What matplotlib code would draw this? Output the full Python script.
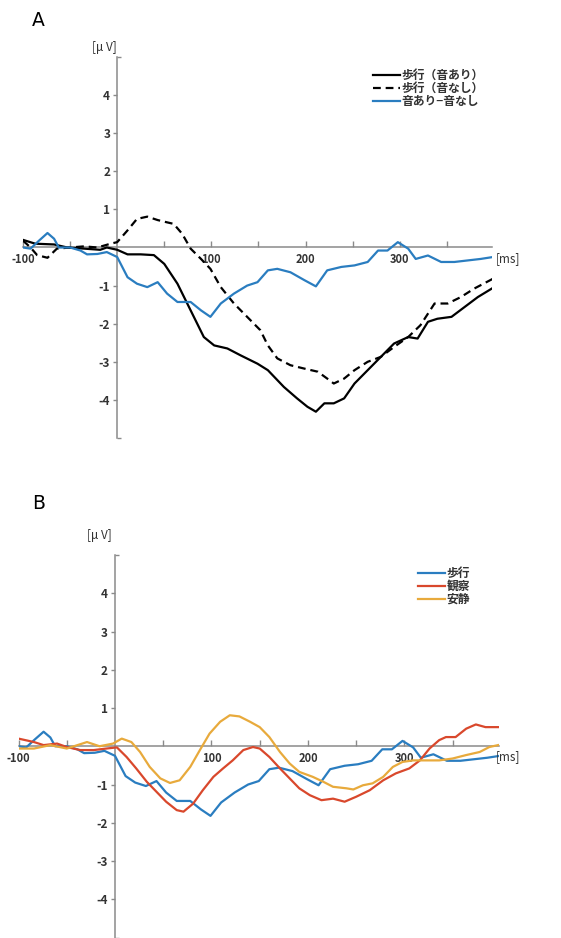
import matplotlib
matplotlib.use("Agg")
from matplotlib import pyplot as plt

plt.rcParams['font.family'] = ['Noto Sans CJK JP', 'DejaVu Sans']
plt.rcParams['axes.unicode_minus'] = False

# --- panel A: walking with / without sound, and the difference ---
t_on = [-100, -87, -67, -53, -35, -18, -11, 0, 11, 25, 39, 50, 64, 78, 92, 103, 117, 131,
        149, 160, 177, 191, 202, 211, 220, 230, 241, 252, 266, 280, 294, 309, 319, 330,
        340, 355, 369, 383, 399]
v_on = [0.2, 0.1, 0.08, 0.0, -0.03, -0.06, 0.0, -0.06, -0.18, -0.18, -0.2, -0.43, -0.95,
        -1.65, -2.35, -2.57, -2.65, -2.83, -3.05, -3.22, -3.66, -3.96, -4.18, -4.31, -4.09,
        -4.09, -3.96, -3.57, -3.22, -2.87, -2.52, -2.35, -2.39, -1.95, -1.87, -1.82, -1.56,
        -1.30, -1.06]

t_off = [-100, -92, -85, -74, -64, -50, -35, -21, -7, 0, 11, 21, 32, 43, 53, 60, 69, 78,
         89, 99, 110, 124, 138, 152, 160, 170, 184, 199, 213, 223, 230, 241, 252, 266, 280,
         294, 309, 322, 337, 351, 365, 379, 399]
v_off = [0.18, 0.0, -0.2, -0.27, -0.03, 0.0, 0.03, 0.0, 0.1, 0.14, 0.45, 0.75, 0.81, 0.72,
         0.66, 0.62, 0.36, -0.03, -0.3, -0.56, -1.04, -1.47, -1.82, -2.17, -2.57, -2.91,
         -3.09, -3.18, -3.26, -3.44, -3.57, -3.44, -3.22, -3.0, -2.87, -2.61, -2.35, -2.04,
         -1.47, -1.47, -1.30, -1.08, -0.82]

t_walk = [-100, -92, -83, -74, -67, -62, -50, -39, -32, -21, -11, 0, 11, 21, 32, 43, 53,
          64, 78, 89, 99, 110, 124, 138, 149, 160, 170, 184, 199, 211, 223, 238, 252, 266,
          277, 287, 298, 309, 317, 330, 344, 358, 372, 386, 399]
v_walk = [0.0, -0.03, 0.18, 0.38, 0.23, 0.0, 0.0, -0.08, -0.18, -0.17, -0.12, -0.25, -0.78,
          -0.95, -1.04, -0.91, -1.21, -1.43, -1.43, -1.65, -1.82, -1.47, -1.21, -1.0, -0.91,
          -0.6, -0.56, -0.65, -0.86, -1.02, -0.6, -0.51, -0.47, -0.38, -0.08, -0.08, 0.14,
          -0.03, -0.3, -0.21, -0.38, -0.38, -0.34, -0.3, -0.25]

# --- panel B: walking, observation, rest ---
t_obs = [-100, -84, -74, -60, -50, -36, -22, -9, 2, 12, 22, 33, 43, 53, 64, 71, 81, 91,
         102, 112, 122, 133, 143, 150, 160, 171, 181, 191, 202, 214, 226, 238, 250, 264,
         278, 291, 305, 316, 326, 336, 343, 353, 364, 374, 384, 397]
v_obs = [0.2, 0.11, 0.03, 0.07, -0.02, -0.1, -0.1, -0.06, -0.03, -0.28, -0.58, -0.93,
         -1.19, -1.45, -1.67, -1.71, -1.5, -1.15, -0.8, -0.58, -0.37, -0.1, -0.02, -0.06,
         -0.28, -0.58, -0.84, -1.1, -1.28, -1.41, -1.37, -1.45, -1.32, -1.15, -0.89, -0.71,
         -0.58, -0.37, -0.06, 0.16, 0.24, 0.24, 0.46, 0.57, 0.5, 0.5]

t_rest = [-100, -84, -67, -50, -29, -16, -2, 7, 17, 26, 36, 47, 57, 67, 78, 88, 98, 109,
          119, 129, 140, 150, 160, 171, 181, 191, 205, 216, 226, 240, 247, 257, 267, 278,
          288, 298, 309, 322, 336, 350, 364, 378, 388, 397]
v_rest = [-0.06, -0.06, 0.03, -0.06, 0.11, 0.0, 0.07, 0.2, 0.11, -0.15, -0.54, -0.84,
          -0.96, -0.89, -0.54, -0.1, 0.33, 0.64, 0.81, 0.78, 0.64, 0.5, 0.24, -0.15, -0.45,
          -0.67, -0.8, -0.93, -1.06, -1.1, -1.13, -1.02, -0.97, -0.8, -0.54, -0.41, -0.37,
          -0.37, -0.37, -0.32, -0.23, -0.15, -0.02, 0.03]

labels_a = ['歩行（音あり）', '歩行（音なし）', '音あり−音なし']
labels_b = ['歩行', '観察', '安静']

x_ticks = [-100, -50, 50, 100, 150, 200, 250, 300, 350]
x_ticklabels = ['-100', '', '', '100', '', '200', '', '300', '']
y_ticks = [-4, -3, -2, -1, 1, 2, 3, 4]

BLUE = '#2a7dc0'
RED = '#d9482c'
YELLOW = '#e8aa3c'
AXIS = '#8a8a8a'
TEXT = '#333333'

W, H = 561, 938
fig = plt.figure(figsize=(W / 100, H / 100), dpi=100)


def px_axes(left, right, top, bottom):
    return fig.add_axes([left / W, 1 - bottom / H, (right - left) / W, (bottom - top) / H])


def style_axes(ax):
    ax.set_xlim(-100, 398)
    ax.set_ylim(-5, 5)
    for s in ['top', 'right']:
        ax.spines[s].set_visible(False)
    ax.spines['left'].set_position(('data', 0))
    ax.spines['bottom'].set_position(('data', 0))
    for s in ['left', 'bottom']:
        ax.spines[s].set_color(AXIS)
        ax.spines[s].set_linewidth(1.1)
        ax.spines[s].set_zorder(1)
    ax.set_xticks(x_ticks)
    ax.set_xticklabels(x_ticklabels)
    ax.set_yticks(y_ticks)
    ax.set_yticks([-5, 5], minor=True)
    ax.tick_params(axis='x', direction='in', length=4, width=1, color=AXIS, pad=4,
                   labelsize=8, labelcolor=TEXT)
    ax.tick_params(axis='y', direction='out', length=3, width=1, color=AXIS, pad=2,
                   labelsize=8.5, labelcolor=TEXT)
    ax.tick_params(axis='y', which='minor', direction='in', length=3, width=1, color=AXIS)
    for lab in ax.get_xticklabels() + ax.get_yticklabels():
        lab.set_fontweight('bold')
    ax.patch.set_visible(False)


# panel A
ax1 = px_axes(23, 492, 57, 438)
style_axes(ax1)
ax1.plot(t_on, v_on, color='black', lw=1.6, label=labels_a[0])
ax1.plot(t_off, v_off, color='black', lw=1.6, dashes=(3.5, 2.2), label=labels_a[1])
ax1.plot(t_walk, v_walk, color=BLUE, lw=1.6, label=labels_a[2])
leg1 = ax1.legend(loc='upper left', bbox_to_anchor=(367 / W, 1 - 63 / H),
                  bbox_transform=fig.transFigure, frameon=False, borderpad=0,
                  labelspacing=0.0, handlelength=2.3, handletextpad=0.15,
                  prop={'size': 8.5, 'weight': 'bold'})
for t in leg1.get_texts():
    t.set_color(TEXT)

# panel B
ax2 = px_axes(18.5, 499, 555, 937.5)
style_axes(ax2)
ax2.plot(t_walk, v_walk, color=BLUE, lw=1.6, label=labels_b[0])
ax2.plot(t_obs, v_obs, color=RED, lw=1.6, label=labels_b[1])
ax2.plot(t_rest, v_rest, color=YELLOW, lw=1.6, label=labels_b[2])
leg2 = ax2.legend(loc='upper left', bbox_to_anchor=(412 / W, 1 - 561 / H),
                  bbox_transform=fig.transFigure, frameon=False, borderpad=0,
                  labelspacing=0.0, handlelength=2.3, handletextpad=0.15,
                  prop={'size': 8.5, 'weight': 'bold'})
for t in leg2.get_texts():
    t.set_color(TEXT)

# panel letters and units
fig.text(38 / W, 1 - 20 / H, 'A', fontsize=13.5, ha='center', va='center', family='DejaVu Sans')
fig.text(39 / W, 1 - 503 / H, 'B', fontsize=13.5, ha='center', va='center', family='DejaVu Sans')
fig.text(104 / W, 1 - 48 / H, '[μ V]', fontsize=8.5, ha='center', va='center', color=TEXT)
fig.text(99 / W, 1 - 535 / H, '[μ V]', fontsize=8.5, ha='center', va='center', color=TEXT)
fig.text(508 / W, 1 - 259 / H, '[ms]', fontsize=8.5, ha='center', va='center', color=TEXT)
fig.text(508 / W, 1 - 757 / H, '[ms]', fontsize=8.5, ha='center', va='center', color=TEXT)

fig.savefig('out.png', dpi=100)
